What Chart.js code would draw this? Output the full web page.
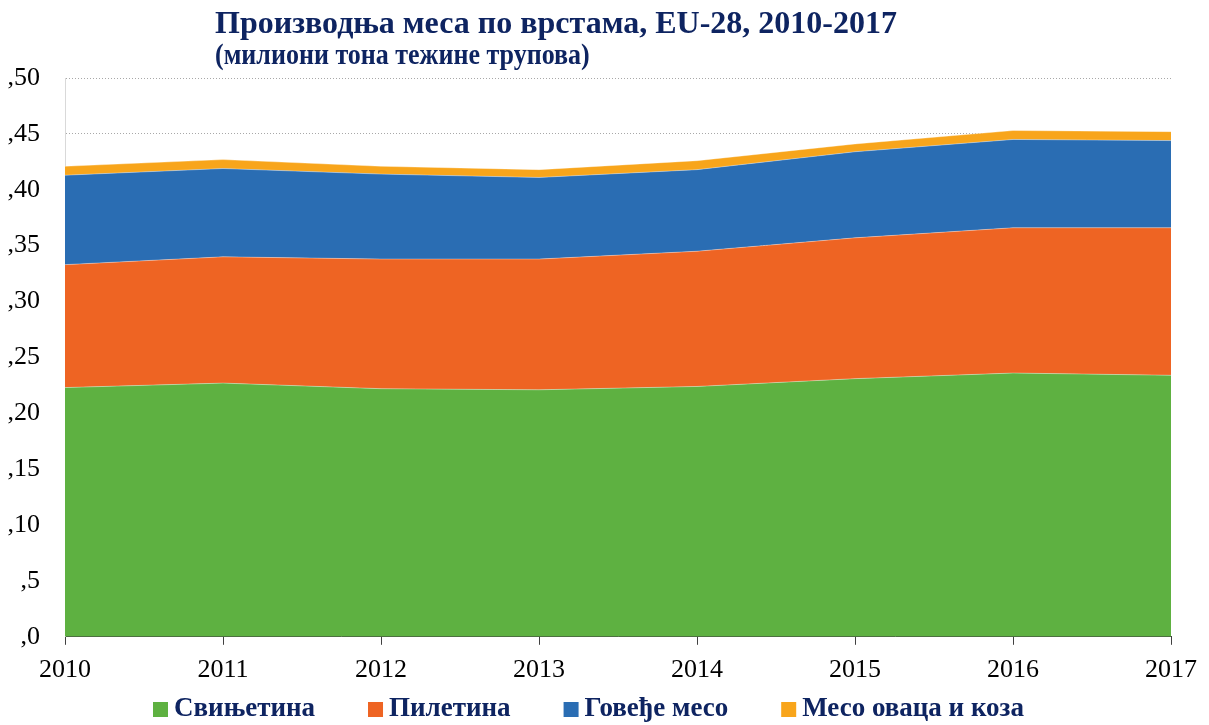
<!DOCTYPE html>
<html>
<head>
<meta charset="utf-8">
<script src="https://cdn.jsdelivr.net/npm/chart.js@4"></script>
<style>
  html, body { margin: 0; padding: 0; background: #fff; }
  #wrap { width: 1209px; height: 725px; position: relative; }
</style>
</head>
<body>
<div id="wrap"><canvas id="chart" width="1209" height="725"></canvas></div>
<script>
var years = ['2010', '2011', '2012', '2013', '2014', '2015', '2016', '2017'];
var pork    = [22.3, 22.7, 22.2, 22.1, 22.4, 23.1, 23.6, 23.4];
var poultry = [11.0, 11.3, 11.6, 11.7, 12.1, 12.6, 13.0, 13.2];
var beef    = [8.0, 7.9, 7.6, 7.3, 7.3, 7.7, 7.9, 7.8];
var sheep   = [0.8, 0.8, 0.7, 0.7, 0.8, 0.7, 0.8, 0.8];
var seriesNames = ['Свињетина', 'Пилетина', 'Говеђе месо', 'Месо оваца и коза'];
var colors = ['#5EB141', '#EE6423', '#2A6DB3', '#F8A51B'];

var titleText = 'Производња меса по врстама, EU-28, 2010-2017';
var subtitleText = '(милиони тона тежине трупова)';
var navy = '#0E2461';
var serif = '"Liberation Serif", "Times New Roman", serif';

// title + subtitle at a fixed left edge, and a legend laid out like the original
var textPlugin = {
    id: 'fixedTexts',
    afterDraw: function (chart) {
        var ctx = chart.ctx;
        ctx.save();
        ctx.fillStyle = navy;
        ctx.textAlign = 'left';
        ctx.textBaseline = 'alphabetic';
        ctx.font = 'bold 32px ' + serif;
        ctx.fillText(titleText, 215, 33);

        ctx.save();
        ctx.translate(215, 64);
        ctx.scale(1, 1.1);
        ctx.font = 'bold 26px ' + serif;
        ctx.fillText(subtitleText, 0, 0);
        ctx.restore();

        // legend
        ctx.font = 'bold 27px ' + serif;
        var x = 153;
        chart.data.datasets.forEach(function (ds) {
            ctx.fillStyle = ds.backgroundColor;
            ctx.fillRect(x, 702, 15, 15);
            ctx.fillStyle = navy;
            ctx.fillText(ds.label, x + 21, 716);
            x += 21 + ctx.measureText(ds.label).width + 53;
        });
        ctx.restore();
    }
};

function makeSet(i, values) {
    return {
        label: seriesNames[i],
        data: values,
        backgroundColor: colors[i],
        borderColor: 'rgba(255,255,255,0.35)',
        borderWidth: 1,
        pointRadius: 0,
        tension: 0,
        fill: i === 0 ? 'origin' : '-1'
    };
}

var ctx = document.getElementById('chart');
new Chart(ctx, {
    type: 'line',
    data: {
        labels: years,
        datasets: [
            makeSet(0, pork),
            makeSet(1, poultry),
            makeSet(2, beef),
            makeSet(3, sheep)
        ]
    },
    options: {
        responsive: false,
        animation: false,
        layout: { padding: { top: 78, right: 38, left: 0, bottom: 29 } },
        plugins: {
            title: { display: false },
            tooltip: { enabled: false },
            legend: { display: false }
        },
        scales: {
            x: {
                offset: false,
                grid: {
                    drawOnChartArea: false,
                    drawTicks: true,
                    tickLength: 8,
                    color: '#404040'
                },
                border: { display: true, color: '#404040', width: 1 },
                ticks: {
                    color: '#000',
                    font: { family: serif, size: 26 },
                    maxRotation: 0,
                    padding: 10
                }
            },
            y: {
                stacked: true,
                min: 0,
                max: 50,
                afterFit: function (scale) { scale.width = 65; },
                grid: {
                    color: '#a8a8a8',
                    drawTicks: false,
                    lineWidth: 1
                },
                border: { display: true, color: '#d9d9d9', dash: [1, 2] },
                ticks: {
                    stepSize: 5,
                    color: '#000',
                    padding: 25,
                    font: { family: serif, size: 26 },
                    callback: function (v) { return ',' + v; }
                }
            }
        }
    },
    plugins: [textPlugin]
});
</script>
</body>
</html>
